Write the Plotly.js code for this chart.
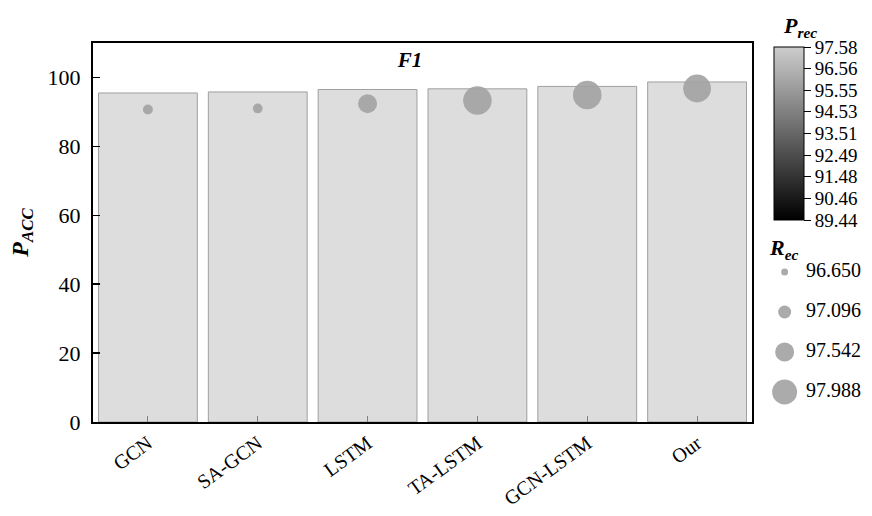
<!DOCTYPE html>
<html>
<head>
<meta charset="utf-8">
<script src="https://cdn.plot.ly/plotly-3.0.1.min.js"></script>
<style>html,body{margin:0;padding:0;background:#fff;}#chart{width:872px;height:516px;}</style>
</head>
<body>
<div id="chart"></div>
<script>
const categories = ['GCN', 'SA-GCN', 'LSTM', 'TA-LSTM', 'GCN-LSTM', 'Our'];
const pAcc = [95.5, 95.8, 96.5, 96.7, 97.4, 98.7];
const pRec = [90.7, 91.0, 92.4, 93.3, 94.9, 96.8];
const rEc = [96.87, 96.85, 97.54, 98.25, 98.25, 98.2];
const colorbarTicks = [89.44, 90.46, 91.48, 92.49, 93.51, 94.53, 95.55, 96.56, 97.58];
const sizeLegendValues = [96.650, 97.096, 97.542, 97.988];
const yTicks = [0, 20, 40, 60, 80, 100];

const FONT = 'Liberation Serif';
const W = 872, H = 516;
const px = v => v / W;
const py = v => (H - v) / H;
const sizeOf = r => 7 + (r - 96.65) * 13.45;
const circleColor = '#a2a2a2';

const bars = {
  type: 'bar', x: categories, y: pAcc, width: 0.9,
  marker: {color: '#dddddd', line: {color: 'rgba(140,140,140,0.8)', width: 1}},
  hoverinfo: 'x+y', showlegend: false, xaxis: 'x', yaxis: 'y'
};
const circles = {
  type: 'scatter', mode: 'markers', x: categories, y: pRec,
  marker: {size: rEc.map(sizeOf), color: circleColor, opacity: 0.9, line: {width: 0}},
  showlegend: false, xaxis: 'x', yaxis: 'y'
};
const cbarTrace = {
  type: 'scatter', mode: 'markers', x: [categories[0]], y: [pRec[0]],
  marker: {
    color: [pRec[0]], opacity: 0, size: 1,
    colorscale: [[0, '#000000'], [1, '#cdcdcd']],
    cmin: colorbarTicks[0], cmax: colorbarTicks[colorbarTicks.length - 1],
    showscale: true,
    colorbar: {
      x: px(774), xanchor: 'left', xpad: 0, ypad: 0,
      y: py(133.5), yanchor: 'middle',
      thickness: 30, thicknessmode: 'pixels',
      len: 173, lenmode: 'pixels',
      outlinecolor: '#000', outlinewidth: 1,
      ticks: 'outside', ticklen: 7, tickcolor: '#000', tickwidth: 1,
      tickvals: colorbarTicks, ticktext: colorbarTicks.map(v => v.toFixed(2)),
      tickfont: {family: FONT, size: 19, color: '#000'}
    }
  },
  hoverinfo: 'skip', showlegend: false, xaxis: 'x', yaxis: 'y'
};
const legendIdx = sizeLegendValues.map((v, i) => i);
const legendMarkers = {
  type: 'scatter', mode: 'markers',
  x: sizeLegendValues.map(() => 0.22), y: legendIdx,
  marker: {size: sizeLegendValues.map(sizeOf), color: circleColor, opacity: 0.9, line: {width: 0}},
  hoverinfo: 'skip', showlegend: false, xaxis: 'x2', yaxis: 'y2'
};
const legendText = {
  type: 'scatter', mode: 'text',
  x: sizeLegendValues.map(() => 0.41), y: legendIdx,
  text: sizeLegendValues.map(v => v.toFixed(3)), textposition: 'middle right',
  textfont: {family: FONT, size: 20, color: '#000'},
  hoverinfo: 'skip', showlegend: false, xaxis: 'x2', yaxis: 'y2'
};

const layout = {
  width: W, height: H,
  margin: {l: 0, r: 0, t: 0, b: 0, autoexpand: false},
  paper_bgcolor: '#fff', plot_bgcolor: '#fff',
  font: {family: FONT, color: '#000'},
  bargap: 0.1,
  title: {text: '<b><i>F1</i></b>', x: px(410), y: py(60), xanchor: 'center', yanchor: 'middle',
          font: {family: FONT, size: 21, color: '#000'}},
  xaxis: {
    domain: [px(93), px(752)], range: [-0.5, 5.5], type: 'category',
    showline: true, linecolor: '#000', linewidth: 2, mirror: true,
    ticks: 'inside', ticklen: 6, tickcolor: '#808080', tickwidth: 1,
    ticklabelstandoff: 0,
    tickangle: -36, tickfont: {family: FONT, size: 20, color: '#000'},
    showgrid: false, zeroline: false, fixedrange: true
  },
  yaxis: {
    domain: [py(422), py(43)], range: [0, 110],
    tickvals: yTicks, ticktext: yTicks.map(String),
    showline: true, linecolor: '#000', linewidth: 2, mirror: true,
    ticks: 'inside', ticklen: 7, tickcolor: '#000', tickwidth: 1.5,
    ticklabelstandoff: 6,
    tickfont: {family: FONT, size: 22, color: '#000'},
    showgrid: false, zeroline: false, fixedrange: true,
    title: {text: '<b><i>P</i></b><sub><b><i>ACC</i></b></sub>', standoff: 12,
            font: {family: FONT, size: 24, color: '#000'}}
  },
  xaxis2: {domain: [px(760), 1], range: [0, 1], visible: false, fixedrange: true, anchor: 'y2'},
  yaxis2: {domain: [py(412), py(252)], range: [3.5, -0.5], visible: false, fixedrange: true, anchor: 'x2'},
  annotations: [{
    xref: 'paper', yref: 'paper', x: px(781), y: py(27), xanchor: 'left', yanchor: 'middle',
    text: '<b><i>P</i></b><sub><b><i>rec</i></b></sub>', showarrow: false,
    font: {family: FONT, size: 22, color: '#000'}
  }, {
    xref: 'paper', yref: 'paper', x: px(767), y: py(249), xanchor: 'left', yanchor: 'middle',
    text: '<b><i>R</i></b><sub><b><i>ec</i></b></sub>', showarrow: false,
    font: {family: FONT, size: 22, color: '#000'}
  }]
};

Plotly.newPlot('chart', [bars, circles, cbarTrace, legendMarkers, legendText], layout,
  {displayModeBar: false, staticPlot: true});
</script>
</body>
</html>
